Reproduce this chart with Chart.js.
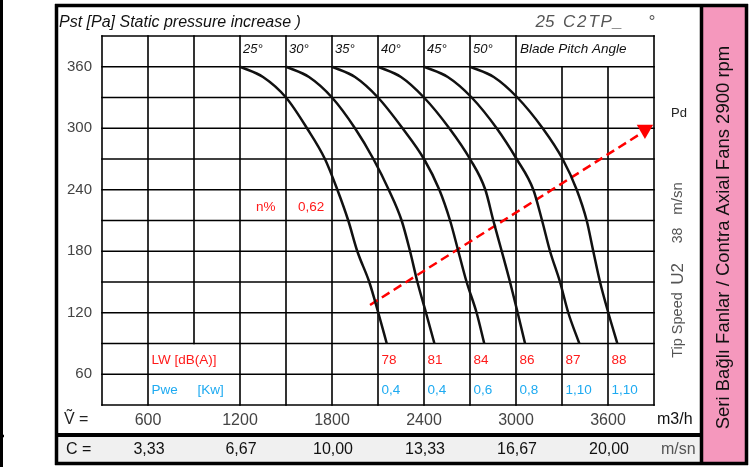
<!DOCTYPE html>
<html>
<head>
<meta charset="utf-8">
<script src="https://cdn.jsdelivr.net/npm/chart.js@4/dist/chart.umd.min.js"></script>
<style>
  html, body { margin: 0; padding: 0; background: #ffffff; }
  #wrap { width: 755px; height: 467px; }
</style>
</head>
<body>
<div id="wrap"><canvas id="fanChart" width="755" height="467"></canvas></div>
<script>
const FONT = "'Liberation Sans', Arial, sans-serif";

// Blade pitch angles, each curve = flow (m3/h) at the pressure steps (Pa)
const angleLabels = ["25°", "30°", "35°", "40°", "45°", "50°"];
const pressureSteps = [360, 350, 330, 300, 270, 240, 210, 180, 150, 120, 90];
const flow25 = [1200, 1350, 1500, 1637, 1754, 1835, 1906, 1965, 2043, 2102, 2157];
const flow30 = [1500, 1650, 1800, 1950, 2070, 2170, 2254, 2309, 2357, 2413, 2468];
const flow35 = [1800, 1950, 2100, 2260, 2400, 2500, 2570, 2624, 2678, 2743, 2793];
const flow40 = [2100, 2250, 2400, 2565, 2700, 2800, 2852, 2907, 2961, 3011, 3059];
const flow45 = [2400, 2555, 2711, 2874, 3004, 3113, 3170, 3222, 3287, 3341, 3413];
const flow50 = [2700, 2855, 3009, 3174, 3304, 3396, 3461, 3504, 3548, 3602, 3661];
const flowSeries = [flow25, flow30, flow35, flow40, flow45, flow50];

// Dynamic pressure line (dashed) and its arrow head
const pdFlow = [2048, 3809];
const pdPressure = [127.6, 294.4];
const arrowFlow = [3841];
const arrowPressure = [298.8];

// Axis labels
const yTickLabels = [60, 120, 180, 240, 300, 360];
const xTickLabels = [600, 1200, 1800, 2400, 3000, 3600];
const cValues = ["3,33", "6,67", "10,00", "13,33", "16,67", "20,00"];

// Table under the curves
const tableCols = [2100, 2400, 2700, 3000, 3300, 3600];
const lwValues = ["78", "81", "84", "86", "87", "88"];
const pweValues = ["0,4", "0,4", "0,6", "0,8", "1,10", "1,10"];
const efficiency = "0,62";

// ===== DATASETS =====

const curveSets = flowSeries.map((flows, i) => ({
    label: angleLabels[i],
    data: flows.map((f, j) => ({ x: f, y: pressureSteps[j] })),
    showLine: true,
    borderColor: "#111111",
    borderWidth: 2.5,
    pointRadius: 0,
    cubicInterpolationMode: "monotone",
    fill: false
}));

const pdSet = {
    label: "Pd",
    data: pdFlow.map((f, j) => ({ x: f, y: pdPressure[j] })),
    showLine: true,
    borderColor: "#ff0000",
    borderWidth: 2.5,
    borderDash: [9, 5],
    pointRadius: 0,
    fill: false
};

const arrowSet = {
    label: "arrow",
    data: arrowFlow.map((f, j) => ({ x: f, y: arrowPressure[j] })),
    showLine: false,
    pointStyle: "triangle",
    rotation: 180,
    pointRadius: 9.5,
    pointBorderWidth: 0,
    pointBackgroundColor: "#ff0000",
    pointBorderColor: "#ff0000"
};

// ===== HELPERS =====

function txt(ctx, str, x, y, font, color, align, baseline) {
    ctx.save();
    ctx.font = font;
    ctx.fillStyle = color;
    ctx.textAlign = align || "left";
    ctx.textBaseline = baseline || "middle";
    ctx.fillText(str, x, y);
    ctx.restore();
}

function vtxt(ctx, str, cx, cy, font, color) {
    ctx.save();
    ctx.translate(cx, cy);
    ctx.rotate(-Math.PI / 2);
    ctx.font = font;
    ctx.fillStyle = color;
    ctx.textAlign = "center";
    ctx.textBaseline = "middle";
    ctx.fillText(str, 0, 0);
    ctx.restore();
}

function line(ctx, x1, y1, x2, y2, w, color) {
    ctx.beginPath();
    ctx.moveTo(x1, y1);
    ctx.lineTo(x2, y2);
    ctx.lineWidth = w;
    ctx.strokeStyle = color || "#000";
    ctx.stroke();
}

// ===== PLUGIN: frame, grid and texts =====

const sheetPlugin = {
    id: "sheet",

    beforeDraw(chart) {
        const ctx = chart.ctx;
        ctx.save();
        ctx.fillStyle = "#ffffff";
        ctx.fillRect(0, 0, 755, 467);
        // pink strip
        ctx.fillStyle = "#f598bd";
        ctx.fillRect(703, 7, 42, 455);
        // grey C row
        ctx.fillStyle = "#f0f0f0";
        ctx.fillRect(58, 437, 642, 25);
        ctx.restore();
    },

    beforeDatasetsDraw(chart) {
        const ctx = chart.ctx;
        const xs = chart.scales.x;
        const ys = chart.scales.y;
        ctx.save();
        ctx.lineCap = "square";

        // horizontal grid
        for (let p = 30; p <= 390; p += 30) {
            const y = ys.getPixelForValue(p);
            line(ctx, xs.getPixelForValue(300), y, xs.getPixelForValue(3900), y, 1.6);
        }

        // vertical grid (top row open above "Blade Pitch Angle", LW label cell open)
        for (let f = 300; f <= 3900; f += 300) {
            const x = xs.getPixelForValue(f);
            let top = 390;
            let bottom = 30;
            if (f === 3300 || f === 3600) top = 360;
            if (f === 900) bottom = 90;
            line(ctx, x, ys.getPixelForValue(top), x, ys.getPixelForValue(bottom), 1.6);
        }
        ctx.restore();
    },

    afterDraw(chart) {
        const ctx = chart.ctx;
        const xs = chart.scales.x;
        const ys = chart.scales.y;
        ctx.save();
        ctx.lineCap = "butt";

        // outer frame
        line(ctx, 1.5, 0, 1.5, 467, 3);
        line(ctx, 0, 436, 4, 436, 2.5);
        line(ctx, 56.5, 4, 56.5, 465, 3.5);
        line(ctx, 55, 5.5, 748, 5.5, 3.5);
        line(ctx, 55, 463.5, 748, 463.5, 3.5);
        line(ctx, 701.5, 4, 701.5, 465, 3.5);
        line(ctx, 746.5, 4, 746.5, 465, 3.5);
        line(ctx, 55, 435, 703, 435, 4);

        // titles
        txt(ctx, "Pst [Pa] Static pressure increase )", 59, 27,
            "italic 16px " + FONT, "#111111", "left", "alphabetic");
        const model = [["25", 535.5], ["C", 563], ["2", 577], ["T", 588.5],
                       ["P", 600.5], ["_", 613], ["°", 648]];
        model.forEach(m => txt(ctx, m[0], m[1], 27,
            "italic 17px " + FONT, "#555555", "left", "alphabetic"));

        // blade angles
        angleLabels.forEach((a, i) => {
            txt(ctx, a, xs.getPixelForValue(flowSeries[i][0]) + 3, 53,
                "italic 13px " + FONT, "#111111", "left", "alphabetic");
        });
        txt(ctx, "Blade Pitch Angle", 520, 53,
            "italic 13.5px " + FONT, "#111111", "left", "alphabetic");

        // efficiency
        txt(ctx, "n%", 256, 207, "13.5px " + FONT, "#ff1a1a");
        txt(ctx, efficiency, 298, 207, "13.5px " + FONT, "#ff1a1a");

        // LW / Pwe table
        const lwY = ys.getPixelForValue(75) + 1.5;
        const pweY = ys.getPixelForValue(45) + 1;
        txt(ctx, "LW [dB(A)]", xs.getPixelForValue(600) + 3.5, lwY, "13.5px " + FONT, "#ff1a1a");
        txt(ctx, "Pwe", xs.getPixelForValue(600) + 3.5, pweY, "13.5px " + FONT, "#1eaaf1");
        txt(ctx, "[Kw]", xs.getPixelForValue(900) + 3.5, pweY, "13.5px " + FONT, "#1eaaf1");
        tableCols.forEach((c, i) => {
            const x = xs.getPixelForValue(c) + 3.5;
            txt(ctx, lwValues[i], x, lwY, "13.5px " + FONT, "#ff1a1a");
            txt(ctx, pweValues[i], x, pweY, "13.5px " + FONT, "#1eaaf1");
        });

        // flow / speed rows
        txt(ctx, "Ṽ =", 64, 420, "16px " + FONT, "#222222");
        txt(ctx, "m3/h", 657, 420, "16px " + FONT, "#111111");
        txt(ctx, "C =", 66, 450, "16px " + FONT, "#111111");
        txt(ctx, "m/sn", 661, 450, "16px " + FONT, "#555555");
        xTickLabels.forEach((v, i) => {
            txt(ctx, cValues[i], xs.getPixelForValue(v) + 1, 450,
                "16px " + FONT, "#111111", "center");
        });

        // right hand notes
        txt(ctx, "Pd", 671, 113, "13px " + FONT, "#222222");
        vtxt(ctx, "Tip Speed", 678, 325, "14.5px " + FONT, "#555555");
        vtxt(ctx, "U2", 678, 274, "17px " + FONT, "#555555");
        vtxt(ctx, "38", 678, 235.5, "14px " + FONT, "#555555");
        vtxt(ctx, "m/sn", 678, 198.5, "15px " + FONT, "#555555");

        vtxt(ctx, "Seri Bağlı Fanlar / Contra Axial Fans 2900 rpm", 724, 237.5,
             "18.5px " + FONT, "#111111");
        ctx.restore();
    }
};

// ===== CHART =====

const canvas = document.getElementById("fanChart");
const ctx = canvas.getContext("2d");

new Chart(ctx, {
    type: "scatter",
    data: {
        datasets: [...curveSets, pdSet, arrowSet]
    },
    options: {
        responsive: false,
        animation: false,
        devicePixelRatio: 1,
        layout: {
            padding: { left: 0, top: 36, right: 101, bottom: 0 }
        },
        plugins: {
            legend: { display: false },
            tooltip: { enabled: false }
        },
        scales: {
            x: {
                type: "linear",
                min: 300,
                max: 3900,
                afterFit: s => { s.height = 62; },
                grid: { display: false, drawTicks: false },
                border: { display: false },
                ticks: {
                    stepSize: 300,
                    autoSkip: false,
                    maxRotation: 0,
                    padding: 6,
                    color: "#444444",
                    font: { size: 16, family: FONT },
                    callback: v => xTickLabels.includes(v) ? String(v) : ""
                }
            },
            y: {
                type: "linear",
                min: 30,
                max: 390,
                afterFit: s => { s.width = 102; },
                grid: { display: false, drawTicks: false },
                border: { display: false },
                ticks: {
                    stepSize: 30,
                    autoSkip: false,
                    padding: 10,
                    color: "#444444",
                    font: { size: 15, family: FONT },
                    callback: v => yTickLabels.includes(v) ? String(v) : ""
                }
            }
        }
    },
    plugins: [sheetPlugin]
});
</script>
</body>
</html>
